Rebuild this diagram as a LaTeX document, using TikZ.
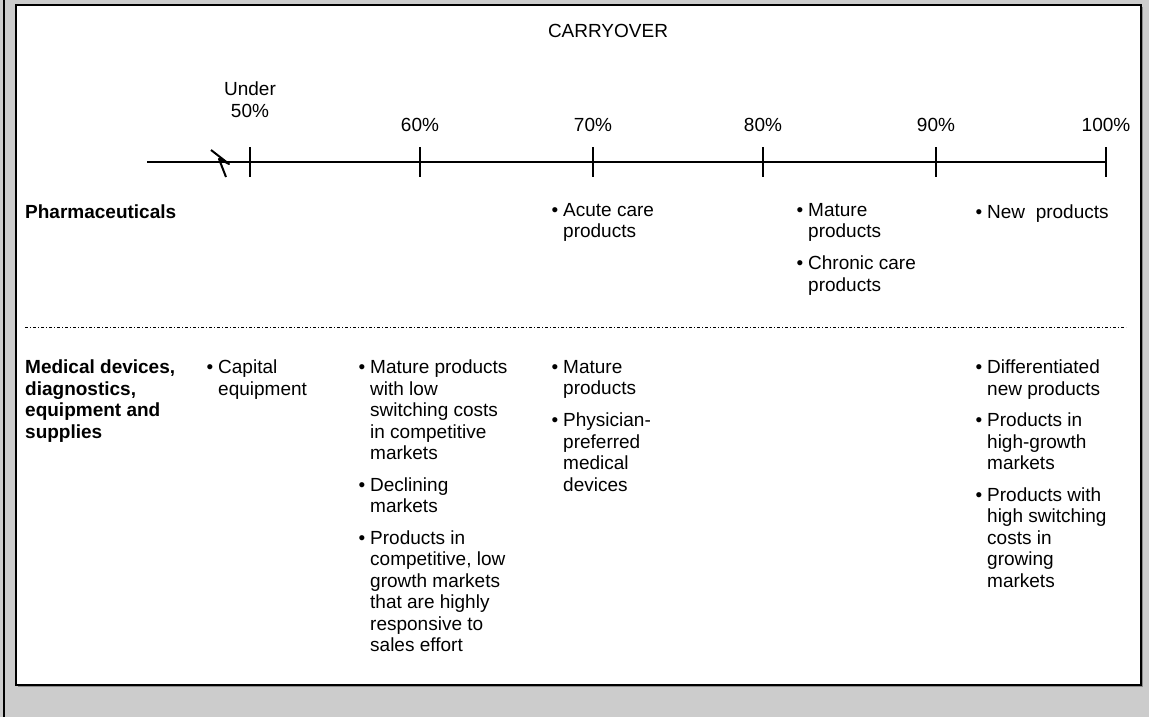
\documentclass[tikz,border=0pt]{standalone}
\usepackage{fontspec}
\setmainfont{Liberation Sans}
\usetikzlibrary{positioning}
\definecolor{panelgray}{HTML}{CCCCCC}
\newcommand{\bodyfont}{\fontsize{19}{21.5}\selectfont}
\newcommand{\bul}{\llap{\textbullet\hspace{5pt}}}

\begin{document}
\begin{tikzpicture}[
    x=1pt, y=-1pt,
    font=\bodyfont,
    tick/.style = {line width=2pt},
    pct/.style = {anchor=north, yshift=15.05pt, inner sep=0, align=center,
      execute at begin node=\strut},
    item/.style = {anchor=north west, yshift=15.05pt, inner sep=0, align=left,
      execute at begin node=\strut},
    rowlabel/.style = {item, font=\bodyfont\bfseries},
    sep/.style = {line width=0.9pt, dash pattern=on 3pt off 2pt on 1pt off 2pt},
  ]
  \useasboundingbox (0,0) rectangle (1149,717);
  \fill[panelgray] (0,0) rectangle (1149,717);
  \draw[line width=2pt] (4,0) -- (4,717);
  \draw[black!45, line width=1pt] (18,686.5) -- (1142.5,686.5) -- (1142.5,7);
  \filldraw[fill=white, draw=black, line width=1.5pt] (16,5) rectangle (1141,685);

  \node[pct] (title) at (608,37) {CARRYOVER};

  % axis with ticks
  \coordinate (axl) at (147,162);
  \foreach \x/\y/\t [count=\i] in {250/97/{Under\\50\%}, 420/131/60\%, 593/131/70\%,
      763/131/80\%, 936/131/90\%, 1106/131/100\%} {
    \coordinate (T\i) at (\x,162);
    \draw[tick] (\x,147) -- (\x,177);
    \node[pct] (P\i) at (\x,\y) {\t};
  }
  \draw[tick] (axl) -- (T6);
  \draw[line width=2pt, line join=round] (211,150) -- (229,164) -- (219,159) -- (226,177);

  % rows
  \coordinate (sepl) at (25,327);
  \coordinate (sepr) at (1126,327);
  \draw[sep] (sepl) -- (sepr);

  \node[rowlabel] (pharma) at (25,218) {Pharmaceuticals};
  \node[rowlabel] (meddev) at (25,375) {Medical devices,\\diagnostics,\\equipment and\\supplies};

  \node[item] (ph1) at (563,218) {\bul Acute care\\products};
  \node[item] (ph2) at (808,218) {\bul Mature\\products};
  \node[item] (ph3) at (808,271) {\bul Chronic care\\products};
  \node[item] (ph4) at (987,218) {\bul New\ \ products};

  \node[item] (md1) at (218,375) {\bul Capital\\equipment};
  \node[item] (md2) at (370,375) {\bul Mature products\\with low\\switching costs\\in competitive\\markets};
  \node[item] (md3) at (370,492.5) {\bul Declining\\markets};
  \node[item] (md4) at (370,545.5) {\bul Products in\\competitive, low\\growth markets\\that are highly\\responsive to\\sales effort};
  \node[item] (md5) at (563,375) {\bul Mature\\products};
  \node[item] (md6) at (563,428) {\bul Physician-\\preferred\\medical\\devices};
  \node[item] (md7) at (987,375) {\bul Differentiated\\new products};
  \node[item] (md8) at (987,428) {\bul Products in\\high-growth\\markets};
  \node[item] (md9) at (987,502.5) {\bul Products with\\high switching\\costs in\\growing\\markets};
\end{tikzpicture}
\end{document}
